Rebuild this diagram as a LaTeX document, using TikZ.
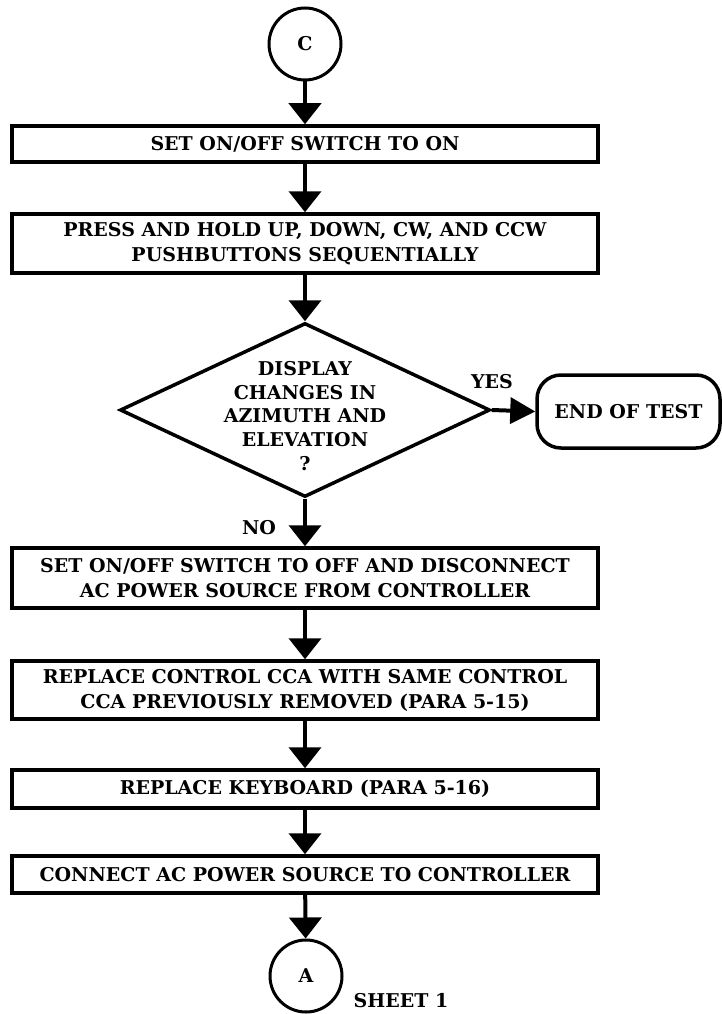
\documentclass[tikz,border=0pt]{standalone}
\usepackage{fontspec}
\setmainfont{DejaVu Serif}
\usetikzlibrary{shapes.geometric,arrows.meta}
\begin{document}
\begin{tikzpicture}[x=1pt,y=-1pt,
  every node/.style={font=\fontsize{19}{25}\selectfont\bfseries},
  box/.style={draw,line width=3.5pt,minimum width=586pt,align=center,inner sep=0pt},
  conn/.style={circle,draw,line width=3pt,minimum size=72pt,inner sep=0pt},
  flow/.style={line width=4pt,-{Triangle[width=32pt,length=21pt]}},
  sideflow/.style={line width=4pt,-{Triangle[width=26pt,length=25pt]}},
  lbl/.style={inner sep=0pt}]
\useasboundingbox (0,0) rectangle (722,1014);
\node[conn] (c) at (305,44) {C};
\node[box,minimum height=36pt] (b1) at (305,144) {SET ON/OFF SWITCH TO ON};
\node[box,minimum height=59pt] (b2) at (305,243.5) {PRESS AND HOLD UP, DOWN, CW, AND CCW\\PUSHBUTTONS SEQUENTIALLY};
\node[diamond,draw,line width=3.5pt,minimum width=370pt,minimum height=174pt,inner sep=0pt] (d) at (305,410) {};
\node[align=center,lbl,font=\fontsize{19}{23.7}\selectfont\bfseries] (dt) at (305,416) {DISPLAY\\CHANGES IN\\AZIMUTH AND\\ELEVATION\\?};
\node[draw,line width=3.5pt,rounded corners=24pt,minimum width=183pt,minimum height=73pt] (t) at (628.5,411.5) {END OF TEST};
\node[box,minimum height=60pt] (b3) at (305,578) {SET ON/OFF SWITCH TO OFF AND DISCONNECT\\AC POWER SOURCE FROM CONTROLLER};
\node[box,minimum height=58pt] (b4) at (305,690) {REPLACE CONTROL CCA WITH SAME CONTROL\\CCA PREVIOUSLY REMOVED (PARA 5-15)};
\node[box,minimum height=38pt] (b5) at (305,789) {REPLACE KEYBOARD (PARA 5-16)};
\node[box,minimum height=37pt] (b6) at (305,874.5) {CONNECT AC POWER SOURCE TO CONTROLLER};
\node[conn] (a) at (306,976) {A};
\node[lbl] (yes) at (492,382) {YES};
\node[lbl] (no) at (259,528) {NO};
\node[lbl] (sheet) at (401,1001) {SHEET 1};
\draw[flow] (c) -- (b1);
\draw[flow] (b1) -- (b2);
\draw[flow] (b2) -- (d.north);
\draw[sideflow] (d.east) -- (t.west);
\draw[flow] (d.south) -- (b3);
\draw[flow] (b3) -- (b4);
\draw[flow] (b4) -- (b5);
\draw[flow] (b5) -- (b6);
\draw[flow] (b6) -- (a);
\end{tikzpicture}
\end{document}
